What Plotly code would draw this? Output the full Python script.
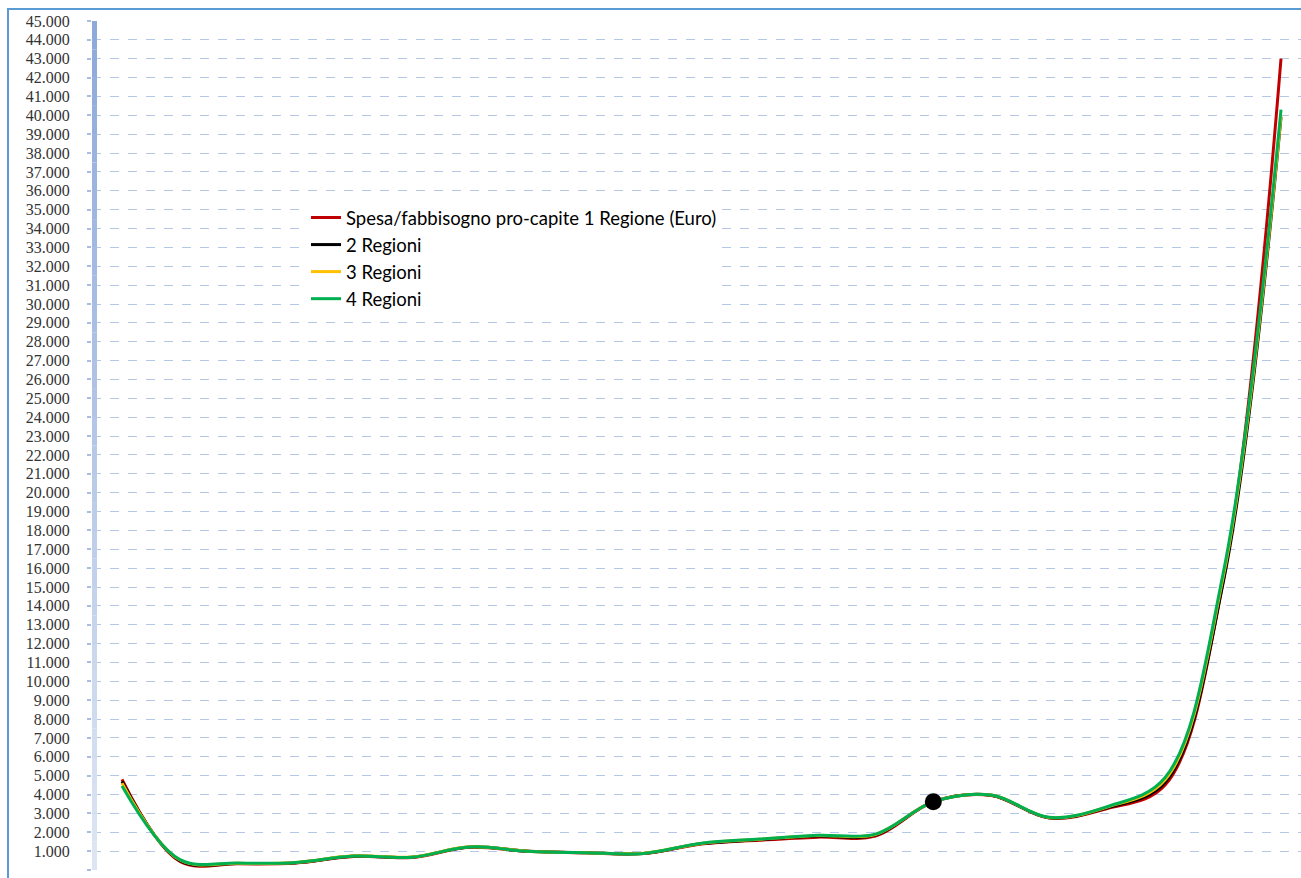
import plotly.graph_objects as go

# ---- data ----
categories = list(range(21))
serie_1 = [4800, 450, 330, 370, 720, 660, 1200, 990, 910, 870, 1380, 1580, 1740, 1800, 3610, 3950, 2750, 3250, 4500, 15300, 43000]
serie_2 = [4700, 500, 350, 390, 740, 680, 1220, 1000, 920, 880, 1400, 1610, 1800, 1850, 3620, 3960, 2770, 3300, 4650, 15200, 39900]
serie_3 = [4600, 530, 360, 400, 750, 690, 1230, 1000, 920, 885, 1410, 1630, 1830, 1880, 3620, 3970, 2780, 3340, 4780, 15500, 40000]
serie_4 = [4450, 550, 370, 400, 740, 680, 1220, 995, 915, 880, 1420, 1640, 1840, 1900, 3610, 3970, 2790, 3360, 4900, 15700, 40300]
series_names = ["Spesa/fabbisogno pro-capite 1 Regione (Euro)", "2 Regioni", "3 Regioni", "4 Regioni"]
series_colors = ["#c00000", "#000000", "#ffc000", "#00b050"]
dot_index = 14

tick_values = list(range(0, 45001, 1000))
tick_labels = ["-" if v == 0 else f"{v:,}".replace(",", ".") for v in tick_values]

# ---- figure ----
W, H = 1301, 878
L, R, T, B = 92, 0, 21, 8
fig = go.Figure()
for vals, name, col in zip([serie_1, serie_2, serie_3, serie_4], series_names, series_colors):
    fig.add_trace(go.Scatter(x=categories, y=vals, name=name, mode="lines",
                             line=dict(color=col, width=3, shape="spline", smoothing=1.0)))

fig.add_trace(go.Scatter(x=[categories[dot_index]], y=[serie_2[dot_index]], mode="markers",
                         marker=dict(color="#000000", size=17), showlegend=False, hoverinfo="skip"))

pw = W - L - R
ph = H - T - B

shapes = []
# gradient y-axis line
n = 30
c0 = (0x8e, 0xaa, 0xdb)
c1 = (0xdd, 0xe5, 0xf3)
for i in range(n):
    f = i / (n - 1)
    c = tuple(round(c0[k] + (c1[k] - c0[k]) * f) for k in range(3))
    y1 = 1 - i / n
    y0 = 1 - (i + 1) / n
    shapes.append(dict(type="line", xref="paper", yref="paper", x0=2.5 / pw, x1=2.5 / pw,
                       y0=y0, y1=y1, line=dict(color="rgb(%d,%d,%d)" % c, width=5), layer="above"))
# outer border of the chart object
shapes.append(dict(type="rect", xref="paper", yref="paper",
                   x0=(8 - L) / pw, x1=(W + 10 - L) / pw,
                   y0=-(B + 10) / ph, y1=(H - B - 9) / ph,
                   line=dict(color="#5b9bd5", width=2), fillcolor="rgba(0,0,0,0)", layer="above"))

fig.update_layout(
    width=W, height=H,
    margin=dict(l=L, r=R, t=T, b=B),
    paper_bgcolor="white", plot_bgcolor="white",
    showlegend=True,
    legend=dict(x=(306 - L) / pw, y=1 - (199 - T) / ph, xanchor="left", yanchor="top",
                bgcolor="white", font=dict(family="Lato", size=18.5, color="#000000"),
                itemwidth=30, tracegroupgap=0),
    xaxis=dict(range=[-0.518, 20.345], showgrid=False, zeroline=False, showline=False,
               showticklabels=False, ticks=""),
    yaxis=dict(range=[0, 45000], tickmode="array", tickvals=tick_values, ticktext=tick_labels,
               showgrid=True, gridcolor="#b4c7e7", griddash="dash", gridwidth=1,
               zeroline=False, showline=False,
               ticks="outside", ticklen=4, tickwidth=2, tickcolor="#a9bde3",
               ticklabelstandoff=14,
               tickfont=dict(family="Liberation Serif", size=16, color="#333333")),
    shapes=shapes,
)

fig.write_html("out.html")
